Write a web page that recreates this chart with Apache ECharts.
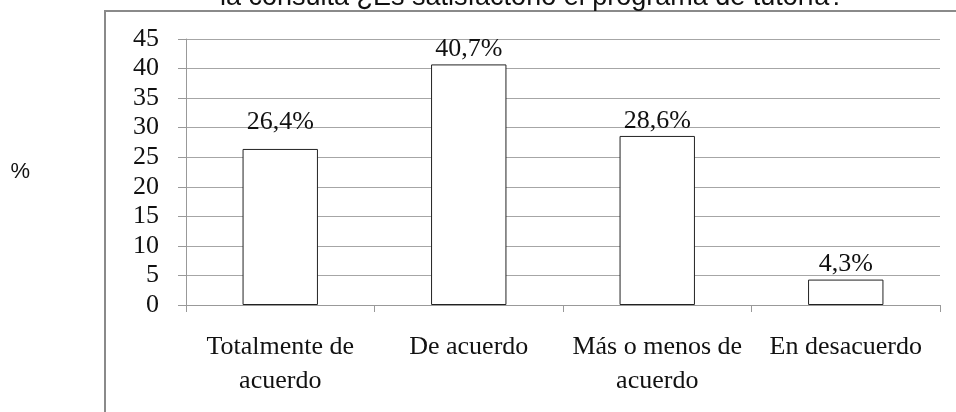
<!DOCTYPE html>
<html>
<head>
<meta charset="utf-8">
<script src="https://cdn.jsdelivr.net/npm/echarts@6/dist/echarts.min.js"></script>
<style>html,body{margin:0;padding:0;background:#fff;}#c{width:956px;height:412px;}</style>
</head>
<body>
<div id="c"></div>
<script>
const titleText = 'la consulta ¿Es satisfactorio el programa de tutoría?';
const categories = ['Totalmente de\nacuerdo', 'De acuerdo', 'Más o menos de\nacuerdo', 'En desacuerdo'];
const values = [26.4, 40.7, 28.6, 4.3];
const yTicks = [0, 5, 10, 15, 20, 25, 30, 35, 40, 45];

const chart = echarts.init(document.getElementById('c'));
const serif = '"Liberation Serif", "Times New Roman", serif';
chart.setOption({
  animation: false,
  backgroundColor: '#fff',
  title: {
    text: titleText,
    left: 220,
    top: -16,
    padding: 0,
    textStyle: { fontFamily: '"Liberation Sans", Arial, sans-serif', fontSize: 27, fontWeight: 'normal', color: '#111' }
  },
  graphic: [{
    type: 'rect',
    shape: { x: 105, y: 11, width: 900, height: 500 },
    style: { fill: 'none', stroke: '#8a8a8a', lineWidth: 2 },
    silent: true
  }],
  grid: { left: 186, right: 16, top: 39, bottom: 107, containLabel: false },
  xAxis: {
    type: 'category',
    data: categories,
    axisLine: { lineStyle: { color: '#999', width: 1 } },
    axisTick: { show: true, alignWithLabel: false, length: 7, lineStyle: { color: '#999' } },
    axisLabel: { fontFamily: serif, fontSize: 26, color: '#111', margin: 25, lineHeight: 34, interval: 0 }
  },
  yAxis: {
    type: 'value',
    min: 0, max: 45, interval: 5,
    name: '%',
    nameLocation: 'middle',
    nameRotate: 0,
    nameGap: 156,
    nameTextStyle: { fontFamily: '"Liberation Sans", Arial, sans-serif', fontSize: 22, color: '#111', padding: [4, 0, 0, 0] },
    axisLine: { show: true, lineStyle: { color: '#999', width: 1 } },
    axisTick: { show: true, length: 8, lineStyle: { color: '#999' } },
    splitLine: { show: true, lineStyle: { color: '#a6a6a6', width: 1 } },
    axisLabel: {
      fontFamily: serif, fontSize: 26, color: '#111', margin: 27,
      formatter: v => yTicks.includes(v) ? String(v) : ''
    }
  },
  series: [{
    type: 'bar',
    data: values.map((v, i) => i === 0 ? { value: v, label: { distance: 14 } } : v),
    barWidth: '40%',
    itemStyle: { color: '#fff', borderColor: '#222', borderWidth: 1 },
    label: {
      show: true, position: 'top', distance: 2,
      fontFamily: serif, fontSize: 26, color: '#111',
      formatter: p => String(p.value).replace('.', ',') + '%'
    }
  }]
});
</script>
</body>
</html>
